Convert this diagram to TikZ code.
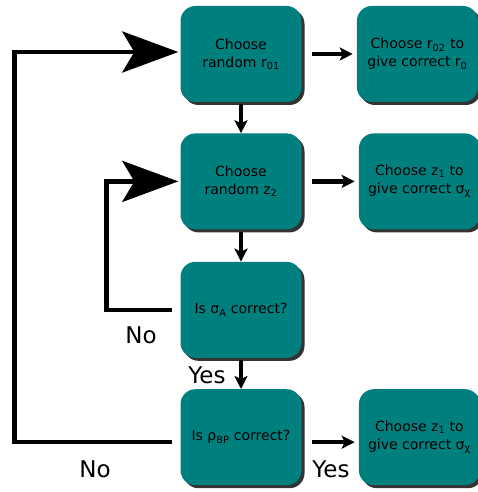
\documentclass[tikz,border=0pt]{standalone}
\usepackage{fontspec}
\setmainfont{DejaVu Sans}
\usetikzlibrary{positioning,shadows,arrows.meta}
\definecolor{tealbox}{HTML}{007F7F}

\begin{document}
\begin{tikzpicture}[x=1pt,y=1pt,font=\fontsize{14}{18}\selectfont,
 stepbox/.style={fill=tealbox, rounded corners=15pt, minimum width=121pt, minimum height=96pt,
            align=center, inner sep=2pt,
            drop shadow={shadow xshift=3pt, shadow yshift=-3pt, fill=black, opacity=0.8}},
 flow/.style={line width=4.5pt, -{Stealth[length=13pt,width=13pt,inset=3pt]}},
 loopback/.style={line width=4.5pt, -{Stealth[length=56pt,width=41pt,inset=12pt]}},
 answer/.style={font=\fontsize{23}{26}\selectfont}]

    \useasboundingbox (0,0) rectangle (478,-492);

    \node[stepbox] (pick r) at (241,-54) {Choose\\random r\textsubscript{01}};
    \node[stepbox, right=55pt of pick r] (fit r) {Choose r\textsubscript{02} to\\give correct r\textsubscript{0}};
    \node[stepbox, below=31pt of pick r] (pick z) {Choose\\random z\textsubscript{2}};
    \node[stepbox, right=57pt of pick z] (fit z) {Choose z\textsubscript{1} to\\give correct σ\textsubscript{χ}};
    \node[stepbox, below=32pt of pick z] (test sigma) {Is σ\textsubscript{A} correct?};
    \node[stepbox, below=31pt of test sigma] (test rho) {Is ρ\textsubscript{BP} correct?};
    \node[stepbox, right=57pt of test rho] (fit z2) {Choose z\textsubscript{1} to\\give correct σ\textsubscript{χ}};

    % straight steps
    \draw[flow] ([xshift=10pt]pick r.east) -- ([xshift=-4pt]fit r.west);
    \draw[flow] ([xshift=10pt]pick z.east) -- ([xshift=-4pt]fit z.west);
    \draw[flow] ([xshift=10pt,yshift=-5pt]test rho.east) -- ([xshift=-4pt,yshift=-5pt]fit z2.west);
    \draw[flow] ([yshift=-2pt]pick r.south) -- (pick z.north);
    \draw[flow] ([yshift=-2pt]pick z.south) -- (test sigma.north);
    \draw[flow] ([yshift=-2pt]test sigma.south) -- (test rho.north);

    % loops back
    \draw[loopback] ([xshift=-8pt]test sigma.west) -- ++(-66pt,0) |- ([xshift=-2pt]pick z.west);
    \draw[loopback] ([xshift=-8pt,yshift=-5pt]test rho.west) -- ++(-158pt,0) |- ([xshift=-2pt,yshift=2pt]pick r.west);

    \node[answer] (no1) at (141,-335) {No};
    \node[answer] (yes1) at (207,-375) {Yes};
    \node[answer] (no2) at (95,-469) {No};
    \node[answer] (yes2) at (331,-469) {Yes};
\end{tikzpicture}
\end{document}
